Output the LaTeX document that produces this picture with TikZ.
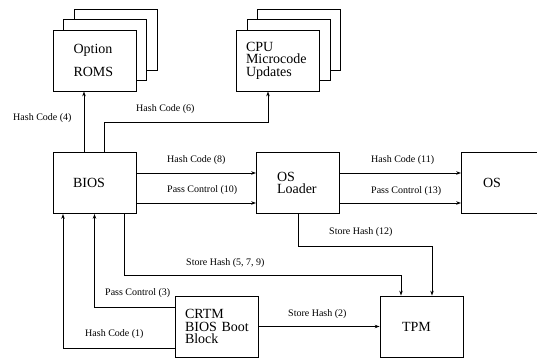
\documentclass[tikz,border=0pt]{standalone}
\usepackage{fontspec}
\setmainfont{Liberation Serif}
\usetikzlibrary{arrows.meta,shadows}

\begin{document}
\begin{tikzpicture}[
  x=1pt,
  y=-1pt,
  every node/.style={font=\rmfamily\fontsize{14}{12.5}\selectfont, black},
  box/.style={draw, line width=0.8pt, fill=white, minimum width=83pt,
              minimum height=61pt, align=left, inner sep=0pt},
  stack/.style={box, double copy shadow={shadow xshift=10.5pt,
                                         shadow yshift=10.5pt}},
  flow/.style={line width=0.8pt, -{Stealth[length=5pt, width=3.5pt]}},
  lbl/.style={font=\rmfamily\fontsize{10}{12}\selectfont, anchor=west,
              inner sep=0pt}
]
  \useasboundingbox (0,0) rectangle (537,358);

  % ---- the boxes, centres read off in pixels ------------------------------
  \node[stack, text width=42pt] (roms) at (94.5,60.5) {Option\\[11pt]ROMS};
  \node[stack, text width=64pt] (cpu) at (278,60.5)
    {CPU\\Microcode\\Updates};
  \node[box, text width=43pt] (bios) at (94.5,183) {BIOS};
  \node[box, text width=42pt] (loader) at (298,183) {OS\\Loader};
  % the right side of this one runs off the page, as in the original
  \node[box, text width=40pt] (os) at (503,183) {OS};
  \node[box, text width=64pt] (crtm) at (217,326.5)
    {CRTM\\BIOS~Boot\\Block};
  \node[box, text width=39pt] (tpm) at (421.5,326.5) {TPM};

  % ---- measuring out of the BIOS --------------------------------------------
  \draw[flow] ([xshift=-10.5pt]bios.north) -- ([xshift=-10.5pt]roms.south);
  \draw[flow] ([xshift=9.5pt]bios.north) -- ++(0,-30)
    -| ([xshift=-10pt]cpu.south);

  % ---- along the boot chain -----------------------------------------------
  \draw[flow] ([yshift=10pt]bios.east) -- ([yshift=10pt]loader.west);
  \draw[flow] ([yshift=-20pt]bios.east) -- ([yshift=-20pt]loader.west);
  \draw[flow] ([yshift=10pt]loader.east) -- ([yshift=10pt]os.west);
  \draw[flow] ([yshift=-20pt]loader.east) -- ([yshift=-20pt]os.west);

  % ---- everything that ends up in the TPM ---------------------------------
  \draw[flow] (loader.south) -- ++(0,32) -| ([xshift=10.5pt]tpm.north);
  \draw[flow] ([xshift=29.5pt]bios.south) -- ++(0,61)
    -| ([xshift=-20.5pt]tpm.north);
  \draw[flow] (crtm) -- (tpm);

  % ---- from the CRTM back up into the BIOS ----------------------------------
  \draw[flow] ([yshift=19.5pt]crtm.west) -| (bios.south);
  \draw[flow] ([yshift=-21.5pt]crtm.west) -| ([xshift=-31.5pt]bios.south);

  % ---- connector labels, left ends at the measured positions ---------------
  \node[lbl] (lhash4) at (13,118) {Hash Code (4)};
  \node[lbl] (lhash6) at (136,109) {Hash Code (6)};
  \node[lbl] (lhash8) at (167,160) {Hash Code (8)};
  \node[lbl] (lpass10) at (167,190) {Pass Control (10)};
  \node[lbl] (lhash11) at (371,160) {Hash Code (11)};
  \node[lbl] (lpass13) at (371,191) {Pass Control (13)};
  \node[lbl] (lstore12) at (329,232) {Store Hash (12)};
  \node[lbl] (lstore579) at (186,263) {Store Hash (5, 7, 9)};
  \node[lbl] (lpass3) at (105,293) {Pass Control (3)};
  \node[lbl] (lhash1) at (85,334) {Hash Code (1)};
  \node[lbl] (lstore2) at (288,314) {Store Hash (2)};
\end{tikzpicture}
\end{document}
